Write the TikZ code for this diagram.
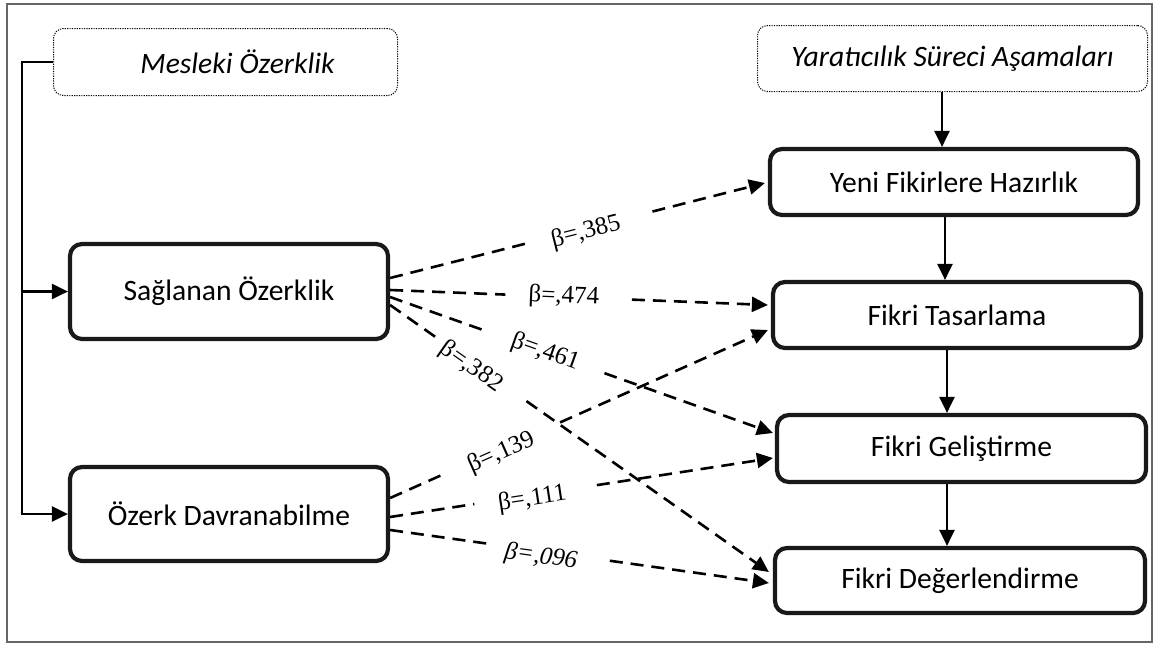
\documentclass[tikz,border=0pt]{standalone}
\usepackage{fontspec}
\setmainfont{Carlito}
\newfontfamily\betafont{Liberation Serif}
\usetikzlibrary{arrows.meta,calc}
\begin{document}
\begin{tikzpicture}[x=0.5pt,y=-0.5pt,
  box/.style={draw=black!90, line width=2.1pt, rounded corners=6pt, font=\fontsize{14.8}{17}\selectfont, inner sep=0pt},
  head/.style={draw=black, line width=0.5pt, dash pattern=on 0.6pt off 0.6pt, rounded corners=5pt, font=\fontsize{14.8}{17}\selectfont\itshape, inner sep=0pt},
  solid line/.style={line width=1.2pt},
  arr/.style={line width=1.2pt, -{Triangle[length=8pt,width=7.5pt]}},
  dline/.style={line width=1.3pt, dash pattern=on 6.5pt off 4pt},
  darr/.style={dline, -{Triangle[length=8pt,width=7.5pt]}},
  lab/.style={font=\betafont\fontsize{12.5}{14}\selectfont, inner sep=1pt, sloped},
  frame/.style={draw=gray!80!black, line width=0.6pt}
]
\useasboundingbox (0,0) rectangle (1157,644);
\draw[frame] (7,4) rectangle (1152,642);

% header boxes
\node[head, minimum width=172pt, minimum height=33.5pt] (mes) at (225.5,62) {\hspace*{12pt}Mesleki Özerklik};
\node[head, minimum width=195pt, minimum height=33pt] (yar) at (952.5,58.5) {Yaratıcılık Süreci Aşamaları};

% left boxes
\node[box, minimum width=159pt, minimum height=47.5pt] (sag) at (229,291.5) {Sağlanan Özerklik};
\node[box, minimum width=159pt, minimum height=47pt] (oze) at (229,514) {Özerk Davranabilme};

% right boxes
\node[box, minimum width=184pt, minimum height=33pt] (yen) at (954,182) {Yeni Fikirlere Hazırlık};
\node[box, minimum width=184pt, minimum height=33pt] (fta) at (957,315) {Fikri Tasarlama};
\node[box, minimum width=184.5pt, minimum height=33.5pt] (fge) at (961.5,448.5) {Fikri Geliştirme};
\node[box, minimum width=185pt, minimum height=32.5pt] (fde) at (960,580.5) {Fikri Değerlendirme};

% left connector
\coordinate (lx) at (22,0);
\draw[solid line] (mes.west) -- (mes.west -| lx) -- ([yshift=-0.6pt]oze.west -| lx);
\draw[arr] (sag.west -| lx) -- (sag.west);
\draw[arr] (oze.west -| lx) -- (oze.west);

% right vertical arrows
\coordinate (ax1) at (942,0);
\coordinate (ax2) at (945,0);
\coordinate (ax3) at (947,0);
\draw[arr] (yar.south -| ax1) -- (yen.north -| ax1);
\draw[arr] (yen.south -| ax2) -- (fta.north -| ax2);
\draw[arr] (fta.south -| ax3) -- (fge.north -| ax3);
\draw[arr] (fge.south -| ax3) -- (fde.north -| ax3);

% start / end points of the dashed paths
\coordinate (s1) at ($(sag.east)+(0,-13.5)$); \coordinate (e1) at ($(yen.west)+(-3,1)$);
\coordinate (s2) at ($(sag.east)+(0,-1.5)$);  \coordinate (e2) at ($(fta.west)+(-3,-10)$);
\coordinate (s3) at ($(sag.east)+(0,5.5)$);   \coordinate (e3) at ($(fge.west)+(-2,-15.5)$);
\coordinate (s4) at ($(sag.east)+(0,13.5)$);  \coordinate (e4) at ($(fde.west)+(-4,-8.5)$);
\coordinate (s5) at ($(oze.east)+(0,-16)$);   \coordinate (e5) at ($(fta.west)+(-3,15)$);
\coordinate (s6) at ($(oze.east)+(0,3)$);     \coordinate (e6) at ($(fge.west)+(-2,9.5)$);
\coordinate (s7) at ($(oze.east)+(0,16)$);    \coordinate (e7) at ($(fde.west)+(-4,2.5)$);

% dashed paths, broken where the labels sit
\draw[dline] (s1) -- ($(s1)!0.37!(e1)$);  \draw[darr] ($(s1)!0.70!(e1)$) -- (e1);
\draw[dline] (s2) -- ($(s2)!0.305!(e2)$); \draw[darr] ($(s2)!0.64!(e2)$) -- (e2);
\draw[dline] (s3) -- ($(s3)!0.25!(e3)$);  \draw[darr] ($(s3)!0.56!(e3)$) -- (e3);
\draw[dline] (s4) -- ($(s4)!0.13!(e4)$);  \draw[darr] ($(s4)!0.36!(e4)$) -- (e4);
\draw[dline] (s5) -- ($(s5)!0.15!(e5)$);  \draw[darr] ($(s5)!0.45!(e5)$) -- (e5);
\draw[dline] (s6) -- ($(s6)!0.22!(e6)$);  \draw[darr] ($(s6)!0.54!(e6)$) -- (e6);
\draw[dline] (s7) -- ($(s7)!0.26!(e7)$);  \draw[darr] ($(s7)!0.58!(e7)$) -- (e7);

% labels
\path (s1) -- node[lab, pos=0.52, yshift=-2pt] (l1) {β=,385} (e1);
\path (s2) -- node[lab, pos=0.46] (l2) {β=,474} (e2);
\path (s3) -- node[lab, pos=0.405] (l3) {β=,461} (e3);
\path (s4) -- node[lab, pos=0.22, yshift=-2pt] (l4) {β=,382} (e4);
\path (s5) -- node[lab, pos=0.29, yshift=-2pt] (l5) {β=,139} (e5);
\path (s6) -- node[lab, pos=0.37, yshift=-2pt] (l6) {β=,111} (e6);
\path (s7) -- node[lab, pos=0.40, yshift=-3pt] (l7) {\itshape β=,096} (e7);
\end{tikzpicture}
\end{document}
